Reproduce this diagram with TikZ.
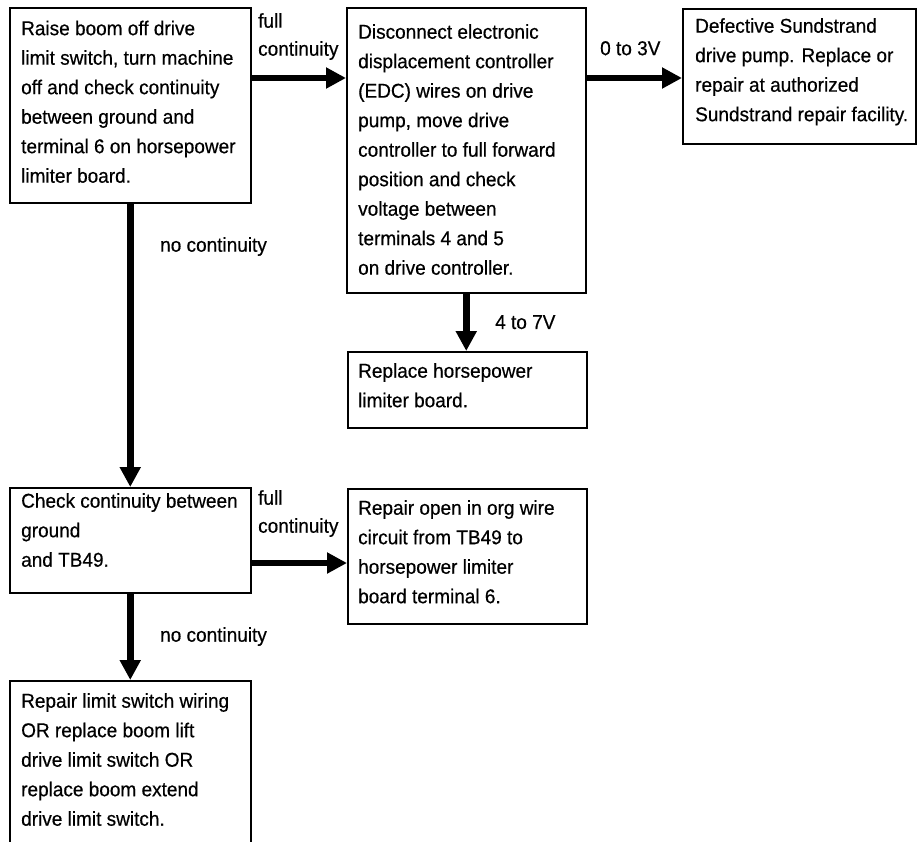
\documentclass[tikz,border=0pt]{standalone}
\usepackage{fontspec}
\setmainfont{Liberation Sans}[FakeStretch=0.95,FakeBold=0.5]
\usetikzlibrary{arrows.meta,calc}

\begin{document}
\begin{tikzpicture}[x=1pt,y=-1pt,
  box/.style={draw, line width=1.5pt, inner sep=0pt, anchor=north west},
  txt/.style={anchor=north west, inner sep=0pt, align=left,
    font=\fontsize{20}{29.5}\selectfont},
  lbl/.style={anchor=north west, inner sep=0pt, align=left,
    font=\fontsize{20}{28}\selectfont},
  arr/.style={line width=6.5pt, -{Triangle[length=20pt,width=20pt]}}
]
\useasboundingbox (0,0) rectangle (917,841);

% boxes
\node[box, minimum width=241pt, minimum height=195pt] (b1) at (9,7) {};
\node[box, minimum width=239pt, minimum height=285pt] (b2) at (346,7) {};
\node[box, minimum width=233pt, minimum height=135pt] (b3) at (682,8) {};
\node[box, minimum width=239pt, minimum height=76pt]  (b5) at (347,351) {};
\node[box, minimum width=241pt, minimum height=105pt] (b4) at (9,487) {};
\node[box, minimum width=239pt, minimum height=135pt] (b6) at (347,488) {};
\node[box, minimum width=241pt, minimum height=200pt] (b7) at (9,680) {};

% box texts
\node[txt] (t1) at (21,20.5) {Raise boom off drive\\limit switch, turn machine\\off and check continuity\\between ground and\\terminal 6 on horsepower\\limiter board.};
\node[txt] (t2) at (358,24) {Disconnect electronic\\displacement controller\\(EDC) wires on drive\\pump, move drive\\controller to full forward\\position and check\\voltage between\\terminals 4 and 5\\on drive controller.};
\node[txt] (t3) at (695,18) {Defective Sundstrand\\drive pump. Replace or\\repair at authorized\\Sundstrand repair facility.};
\node[txt] (t5) at (358,363) {Replace horsepower\\limiter board.};
\node[txt] (t4) at (21,493) {Check continuity between\\ground\\and TB49.};
\node[txt] (t6) at (358,500) {Repair open in org wire\\circuit from TB49 to\\horsepower limiter\\board terminal 6.};
\node[txt] (t7) at (21,693) {Repair limit switch wiring\\OR replace boom lift\\drive limit switch OR\\replace boom extend\\drive limit switch.};

% connectors
\coordinate (a12) at ([yshift=-71pt]b1.north east);
\coordinate (a46) at ([yshift=-76pt]b4.north east);
\draw[arr] (a12) -- (a12 -| b2.west);
\draw[arr] (a12 -| b2.east) -- (a12 -| b3.west);
\draw[arr] (b1.south) -- (b1.south |- b4.north);
\draw[arr] (b2.south) -- (b2.south |- b5.north);
\draw[arr] (a46) -- (a46 -| b6.west);
\draw[arr] (b4.south) -- (b4.south |- b7.north);

% connector labels
\node[lbl] (l1) at (258,13) {full\\continuity};
\node[lbl] (l2) at (600,41) {0 to 3V};
\node[lbl] (l3) at (160,237) {no continuity};
\node[lbl] (l4) at (495,315) {4 to 7V};
\node[lbl] (l5) at (258,490) {full\\continuity};
\node[lbl] (l6) at (160,627) {no continuity};
\end{tikzpicture}
\end{document}
